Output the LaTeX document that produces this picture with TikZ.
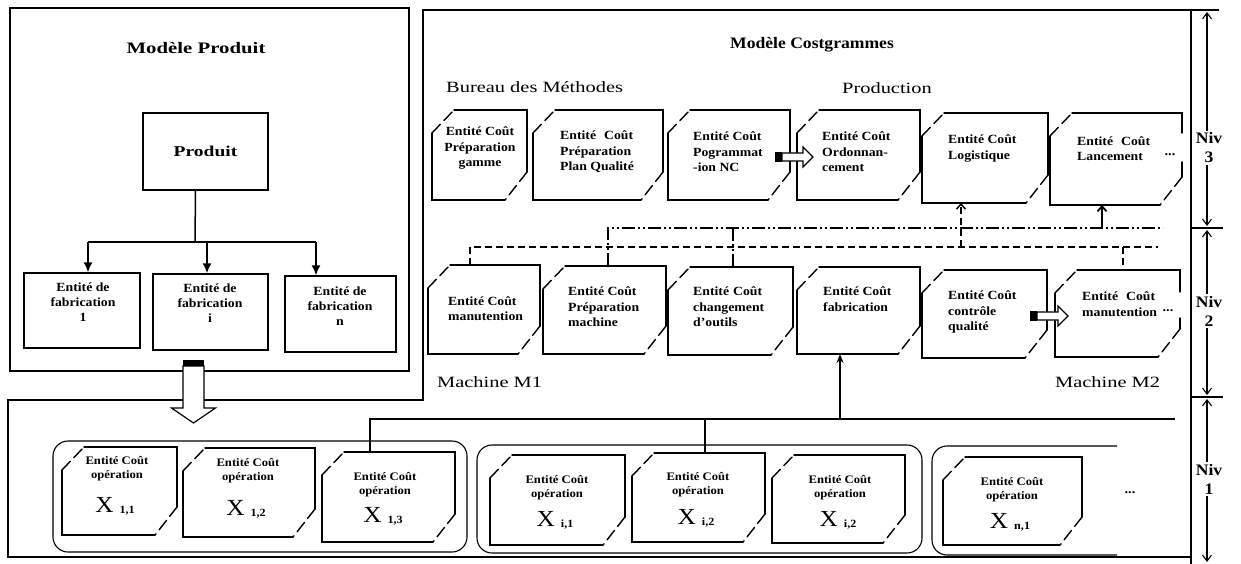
\documentclass[tikz,border=0pt]{standalone}
\usepackage{fontspec}
\setmainfont{Liberation Serif}[FakeStretch=1.1]
\newfontfamily\widefont{Liberation Serif}[FakeStretch=1.3]
\usetikzlibrary{arrows.meta,calc,fit}
\newcommand\fs[2]{\fontsize{#1}{#2}\selectfont}
\tikzset{
 panel/.style={line width=2.8pt},
 tickline/.style={line width=2.2pt},
 boxline/.style={line width=1.4pt, line cap=round},
 chamfer/.style={dash pattern=on 12pt off 5pt},
 conn/.style={line width=1.5pt},
 tri/.style={-{Latex[length=10pt,width=9pt]}},
 thinl/.style={line width=1.1pt},
 ddot/.style={line width=1.5pt, dash pattern=on 13pt off 3pt on 2pt off 3pt on 2pt off 3pt},
 dsh/.style={line width=1.5pt, dash pattern=on 7pt off 4pt},
 barb/.style={-{Straight Barb[length=5pt,width=9pt]}},
 nivarr/.style={line width=1.1pt,-{Straight Barb[length=6pt,width=9pt]}},
 hollow/.style={line width=1.2pt, fill=white},
 btxt/.style={font=\bfseries\fs{12.5}{15.5}, inner sep=0pt},
 ltxt/.style={font=\bfseries\fs{12.5}{15}, inner sep=0pt, align=center},
 otxt/.style={font=\bfseries\fs{11.5}{14}, inner sep=0pt, align=center},
 xtxt/.style={font=\fs{23}{24}, inner sep=0pt, anchor=base},
 wlbl/.style={font=\widefont\fs{15.7}{18}, inner sep=0pt},
 nivt/.style={font=\bfseries\fs{16}{19}, inner sep=2pt, align=center},
 dots/.style={font=\bfseries\fs{13}{13}, inner sep=0pt},
}
\newcommand\cbox[5]{%
 \coordinate (#1-nw) at (#2,#3);
 \coordinate (#1-se) at (#4,#5);
 \node[fit=(#1-nw)(#1-se), inner sep=0pt, outer sep=0pt] (#1) {};
 \draw[boxline] ({#2+22},#3) -- (#4,#3) -- (#4,{#5-28});
 \draw[boxline,chamfer] (#4,{#5-28}) -- ({#4-22},#5);
 \draw[boxline] ({#4-22},#5) -- (#2,#5) -- (#2,{#3+23});
 \draw[boxline,chamfer] (#2,{#3+23}) -- ({#2+22},#3);
}
\newcommand\cboxgap[7]{%
 \coordinate (#1-nw) at (#2,#3);
 \coordinate (#1-se) at (#4,#5);
 \node[fit=(#1-nw)(#1-se), inner sep=0pt, outer sep=0pt] (#1) {};
 \draw[boxline] ({#2+22},#3) -- (#4,#3) -- (#4,#6);
 \draw[boxline] (#4,#7) -- (#4,{#5-28});
 \draw[boxline,chamfer] (#4,{#5-28}) -- ({#4-22},#5);
 \draw[boxline] ({#4-22},#5) -- (#2,#5) -- (#2,{#3+23});
 \draw[boxline,chamfer] (#2,{#3+23}) -- ({#2+22},#3);
}
\newcommand\harrow[1]{%
 \fill ($(#1)+(0,-5)$) rectangle ($(#1)+(7,5)$);
 \draw[hollow] ($(#1)+(7,-4)$) -- ++(21,0) -- ++(0,-6) -- ++(10,10) -- ++(-10,10) -- ++(0,-6) -- ++(-21,0) -- cycle;
}
\newcommand\opbox[5]{% name, cx, text y, X baseline, subscript
 \node[otxt] (#1t) at (#2,#3) {Entité Coût\\opération};
 \node[xtxt] (#1x) at ({#2-2},#4) {X\hspace{6pt}\raisebox{-1pt}{\bfseries\fs{11}{11}#5}};
}
\begin{document}
\begin{tikzpicture}[x=1pt,y=-1pt]
\useasboundingbox (0,0) rectangle (1241,564);
% ---------- panels
\draw[panel] (10,8) rectangle (409,371);
\draw[panel] (423,10) -- (1191,10) -- (1191,557) -- (8,557) -- (8,400) -- (423,400) -- cycle;
\draw[panel] (1191,10) -- (1219,10);
\draw[panel] (1191,557) -- (1191,564);
\draw[tickline] (1191,228) -- (1223,228);
\draw[tickline] (1191,397) -- (1223,397);
% ---------- level axis
\node[nivt] (n3) at (1209,148) {Niv\\3};
\node[nivt] (n2) at (1209,311) {Niv\\2};
\node[nivt] (n1) at (1209,479) {Niv\\1};
\coordinate (t0) at (1207,12);
\coordinate (t1) at (1207,226);
\coordinate (t2) at (1207,230);
\coordinate (t3) at (1207,395);
\coordinate (t4) at (1207,399);
\coordinate (t5) at (1207,562);
\draw[nivarr] (t0 |- n3.north) -- (t0);
\draw[nivarr] (t1 |- n3.south) -- (t1);
\draw[nivarr] (t2 |- n2.north) -- (t2);
\draw[nivarr] (t3 |- n2.south) -- (t3);
\draw[nivarr] (t4 |- n1.north) -- (t4);
\draw[nivarr] (t5 |- n1.south) -- (t5);
% ---------- Modele produit
\node[font=\widefont\bfseries\fs{16}{19}, inner sep=0pt] (mp) at (196,48) {Modèle Produit};
\node[draw, conn, minimum width=125pt, minimum height=77pt, font=\widefont\bfseries\fs{15}{18}] (prod) at (205.5,151.5) {Produit};
\node[draw, conn, minimum width=116pt, minimum height=75pt] (e1) at (82,310.5) {};
\node[draw, conn, minimum width=115pt, minimum height=76pt] (ei) at (210.5,312) {};
\node[draw, conn, minimum width=111pt, minimum height=76pt] (en) at (340.5,314) {};
\node[ltxt] (e1t) at (83,302) {Entité de\\fabrication\\1};
\node[ltxt] (eit) at (210,303) {Entité de\\fabrication\\i};
\node[ltxt] (ent) at (340,306) {Entité de\\fabrication\\n};
\coordinate (pb) at (195,242);
\coordinate (pb1) at (88,242);
\coordinate (pbi) at (207,242);
\coordinate (pbn) at (316,242);
\draw[conn] ([xshift=-10pt]prod.south) -- (pb);
\draw[conn] (pb1) -- (pbn);
\draw[conn,tri] (pb1) -- (pb1 |- e1.north);
\draw[conn,tri] (pbi) -- (pbi |- ei.north);
\draw[conn,tri] (pbn) -- (pbn |- en.north);
% ---------- Costgrammes labels
\node[font=\bfseries\fs{16}{19}, inner sep=0pt] (mc) at (812,45) {Modèle Costgrammes};
\node[wlbl, anchor=west] (bm) at (446,87) {Bureau des Méthodes};
\node[wlbl, anchor=west] (pr) at (842,88) {Production};
\node[wlbl, anchor=west] (m1) at (437,382) {Machine M1};
\node[wlbl, anchor=west] (m2) at (1055,382) {Machine M2};
% ---------- level 3 boxes
\cbox{A}{432}{110}{527}{200}
\cbox{B}{533}{110}{663}{200}
\cbox{C}{668}{110}{790}{200}
\cbox{D}{797}{110}{920}{200}
\cbox{E}{922}{113}{1048}{203}
\cboxgap{F}{1050}{113}{1182}{205}{133}{162}
\node[btxt, align=center] (At) at (480,148) {Entité Coût\\Préparation\\gamme};
\node[btxt, align=left, anchor=west] (Bt) at (560,152) {Entité\hspace{8pt}Coût\\Préparation\\Plan Qualité};
\node[btxt, align=left, anchor=west] (Ct) at (693,152) {Entité Coût\\Pogrammat\\-ion NC};
\node[btxt, align=left, anchor=west] (Dt) at (822,152) {Entité Coût\\Ordonnan-\\cement};
\node[btxt, align=left, anchor=west] (Et) at (948,148.5) {Entité Coût\\Logistique};
\node[btxt, align=left, anchor=west] (Ft) at (1077,148.5) {Entité\hspace{8pt}Coût\\Lancement};
\node[dots] (Fd) at (1170,155) {...};
% ---------- level 2 boxes
\cbox{G}{428}{265}{540}{354}
\cbox{H}{543}{266}{666}{354}
\cbox{I}{668}{267}{793}{355}
\cbox{J}{797}{267}{920}{354}
\cbox{K}{922}{270}{1047}{358}
\cboxgap{L}{1055}{270}{1180}{357}{292}{318}
\node[btxt, align=left, anchor=west] (Gt) at (448,308.5) {Entité Coût\\manutention};
\node[btxt, align=left, anchor=west] (Ht) at (568,307) {Entité Coût\\Préparation\\machine};
\node[btxt, align=left, anchor=west] (It) at (693,307) {Entité\hspace{4pt}Coût\\changement\\d'outils};
\node[btxt, align=left, anchor=west] (Jt) at (823,299) {Entité Coût\\fabrication};
\node[btxt, align=left, anchor=west] (Kt) at (948,312) {Entité Coût\\contrôle\\qualité};
\node[btxt, align=left, anchor=west] (Lt) at (1082,304) {Entité\hspace{8pt}Coût\\manutention};
\node[dots] (Ld) at (1168,311) {...};
% ---------- hollow arrows
\coordinate (hc) at (775,157);
\coordinate (hk) at (1030,316);
\harrow{hc}
\harrow{hk}
% ---------- connectors between levels 2 and 3
\coordinate (ds0) at (470,247);
\coordinate (dsE) at (961,247);
\coordinate (dsL) at (1123,247);
\coordinate (ds1) at (1158,247);
\draw[dsh] (ds0 |- G.north) -- (ds0) -- (ds1);
\draw[dsh] (dsL) -- (dsL |- L.north);
\draw[dsh, barb] (dsE) -- (dsE |- E.south);
\coordinate (dd0) at (608,228);
\coordinate (ddI) at (733,228);
\coordinate (ddF) at (1102,228);
\coordinate (dd1) at (1163,228);
\draw[ddot] (dd0 |- H.north) -- (dd0) -- (dd1);
\draw[ddot] (ddI) -- (ddI |- I.north);
\draw[line width=1.8pt, barb] (ddF) -- (ddF |- F.south);
% ---------- level 1
\draw[thinl, rounded corners=15pt] (53,441) rectangle (467,552);
\draw[thinl, rounded corners=15pt] (477,445) rectangle (922,553);
\draw[thinl, rounded corners=15pt] (1117,446) -- (932,446) -- (932,555) -- (1117,555);
\cbox{x11}{62}{447}{177}{535}
\cbox{x12}{183}{448}{315}{537}
\cbox{x13}{322}{452}{455}{542}
\cbox{xi1}{490}{455}{625}{545}
\cbox{xi2}{632}{453}{765}{542}
\cbox{xi3}{772}{455}{905}{543}
\cbox{xn1}{943}{457}{1082}{545}
\opbox{x11}{117}{469}{512}{1,1}
\opbox{x12}{248}{471}{515}{1,2}
\opbox{x13}{385}{485}{522}{1,3}
\opbox{xi1}{557}{488}{526}{i,1}
\opbox{xi2}{698}{485}{524}{i,2}
\opbox{xi3}{840}{488}{526}{i,2}
\opbox{xn1}{1012}{490}{528}{n,1}
\node[dots] (nd) at (1130,493) {...};
\coordinate (b13) at (370,419);
\coordinate (bi2) at (705,419);
\coordinate (bJ) at (840,419);
\coordinate (bend) at (1175,419);
\draw[thinl] (b13 |- x13.north) -- (b13) -- (bend);
\draw[thinl] (bi2) -- (bi2 |- xi2.north);
\draw[thinl, -{Stealth[length=9pt,width=7pt]}] (bJ) -- (bJ |- J.south);
% ---------- big hollow arrow
\coordinate (ba) at (193.5,360);
\fill ($(ba)+(-10.5,0)$) rectangle ($(ba)+(10.5,6)$);
\draw[hollow] ($(ba)+(-10.5,6)$) -- ++(0,42) -- ++(-11.5,0) -- ++(22,15) -- ++(22,-15) -- ++(-11.5,0) -- ++(0,-42) -- cycle;
\end{tikzpicture}
\end{document}
